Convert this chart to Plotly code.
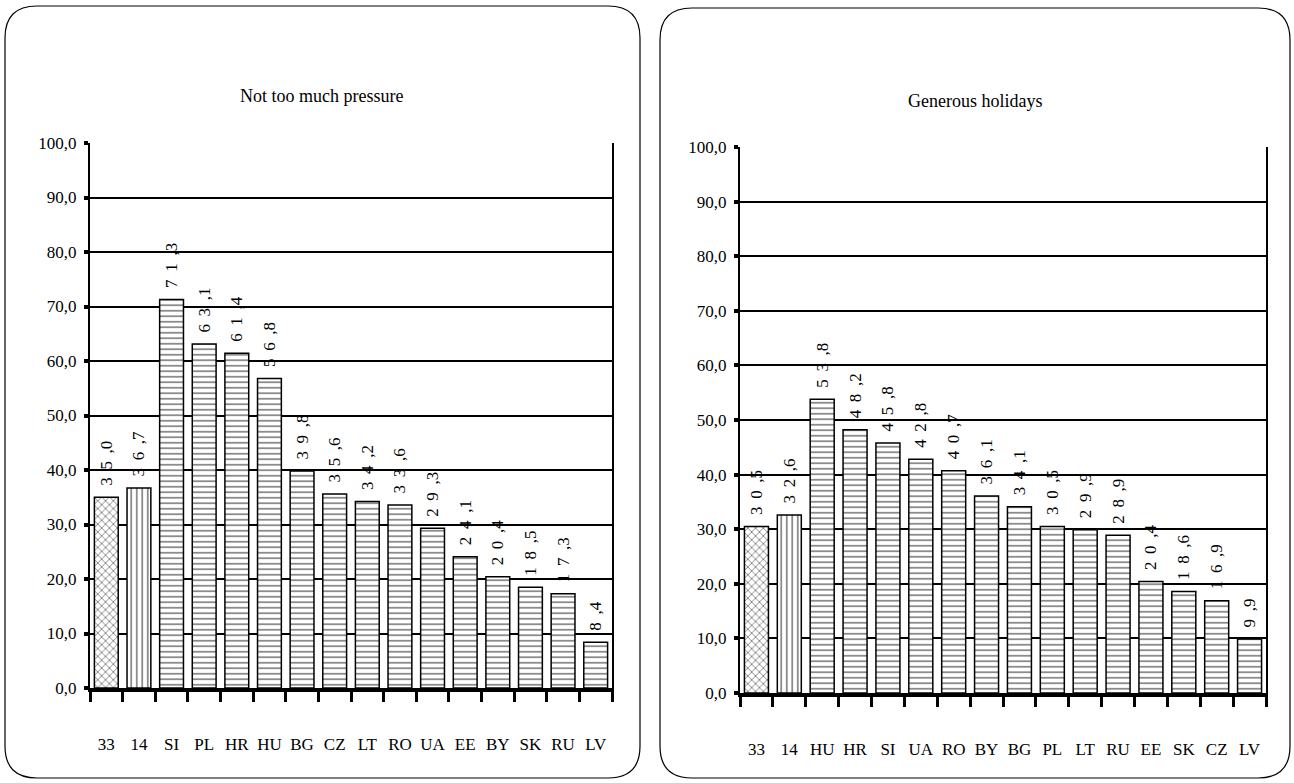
import plotly.graph_objects as go

W, H = 1294, 783

# ---------------- data ----------------
left_title = "Not too much pressure"
left_cats = ["33", "14", "SI", "PL", "HR", "HU", "BG", "CZ", "LT", "RO", "UA", "EE", "BY", "SK", "RU", "LV"]
left_vals = [35.0, 36.7, 71.3, 63.1, 61.4, 56.8, 39.8, 35.6, 34.2, 33.6, 29.3, 24.1, 20.4, 18.5, 17.3, 8.4]

right_title = "Generous holidays"
right_cats = ["33", "14", "HU", "HR", "SI", "UA", "RO", "BY", "BG", "PL", "LT", "RU", "EE", "SK", "CZ", "LV"]
right_vals = [30.5, 32.6, 53.8, 48.2, 45.8, 42.8, 40.7, 36.1, 34.1, 30.5, 29.9, 28.9, 20.4, 18.6, 16.9, 9.9]

y_ticks = [0, 10, 20, 30, 40, 50, 60, 70, 80, 90, 100]
y_ticktext = ["0,0", "10,0", "20,0", "30,0", "40,0", "50,0", "60,0", "70,0", "80,0", "90,0", "100,0"]

FONT = "Liberation Serif"


def fmt(v):
    s = f"{v:.1f}"
    ip, dp = s.split(".")
    return "\u00a0\u00a0" + "\u2009 ".join(ip) + "\u2009 ," + dp


def shapes_for(n):
    return ["x", "|"] + ["-"] * (n - 2)


def px(x):
    return x / W


def py(y):
    return 1 - y / H


def rrect(x0, y0, x1, y1, r):
    pts = [
        ("M", [(x0 + r, y0)]),
        ("L", [(x1 - r, y0)]),
        ("Q", [(x1, y0), (x1, y0 + r)]),
        ("L", [(x1, y1 - r)]),
        ("Q", [(x1, y1), (x1 - r, y1)]),
        ("L", [(x0 + r, y1)]),
        ("Q", [(x0, y1), (x0, y1 - r)]),
        ("L", [(x0, y0 + r)]),
        ("Q", [(x0, y0), (x0 + r, y0)]),
    ]
    out = ""
    for cmd, ps in pts:
        out += cmd + " " + " ".join(f"{px(a):.5f},{py(b):.5f}" for a, b in ps) + " "
    return out + "Z"


fig = go.Figure()

for cats, vals, xa, ya in [(left_cats, left_vals, "x", "y"), (right_cats, right_vals, "x2", "y2")]:
    fig.add_trace(go.Bar(
        x=cats, y=vals, xaxis=xa, yaxis=ya,
        text=[fmt(v) for v in vals],
        textposition="outside", textangle=-90, constraintext="none",
        textfont=dict(family=FONT, size=17, color="black"),
        cliponaxis=False,
        marker=dict(
            color="white",
            line=dict(color="black", width=1.5),
            pattern=dict(shape=shapes_for(len(vals)), fgcolor="black", bgcolor="white",
                         size=5.5, solidity=0.3, fillmode="overlay"),
        ),
        showlegend=False,
    ))

xcommon = dict(
    type="category", showline=True, linecolor="black", linewidth=4,
    ticks="outside", tickson="boundaries", ticklen=10, tickwidth=2.5, tickcolor="black",
    showgrid=False, ticklabelstandoff=38, tickangle=0, automargin=False,
    tickfont=dict(family=FONT, size=17, color="black"),
)
ycommon = dict(
    range=[0, 100], tickvals=y_ticks, ticktext=y_ticktext,
    showline=True, mirror=True, linecolor="black", linewidth=2,
    showgrid=True, gridcolor="black", gridwidth=2.2,
    ticks="outside", ticklen=4, tickwidth=4, tickcolor="black",
    zeroline=False, ticklabelstandoff=4, automargin=False,
    tickfont=dict(family=FONT, size=17, color="black"),
)

fig.update_layout(
    width=W, height=H, autosize=False,
    margin=dict(l=0, r=0, t=0, b=0),
    paper_bgcolor="white", plot_bgcolor="white",
    bargap=0.27,
    xaxis=dict(domain=[px(90), px(612)], anchor="y", **xcommon),
    yaxis=dict(domain=[py(688), py(143)], anchor="x", **ycommon),
    xaxis2=dict(domain=[px(740), px(1266)], anchor="y2", **xcommon),
    yaxis2=dict(domain=[py(693), py(147)], anchor="x2", **ycommon),
    shapes=[
        dict(type="path", xref="paper", yref="paper", path=rrect(5, 6, 640, 778, 32),
             line=dict(color="black", width=1.2)),
        dict(type="path", xref="paper", yref="paper", path=rrect(660, 8, 1290, 778, 32),
             line=dict(color="black", width=1.2)),
    ],
    annotations=[
        dict(text=left_title, x=px(321), y=py(96), xref="paper", yref="paper",
             xanchor="center", yanchor="middle",
             showarrow=False, font=dict(family=FONT, size=18, color="black")),
        dict(text=right_title, x=px(975), y=py(101), xref="paper", yref="paper",
             xanchor="center", yanchor="middle",
             showarrow=False, font=dict(family=FONT, size=18, color="black")),
    ],
)

fig.write_html("out.html", config={"displayModeBar": False},
               post_script="document.body.style.margin='0';document.body.style.overflow='hidden';")
